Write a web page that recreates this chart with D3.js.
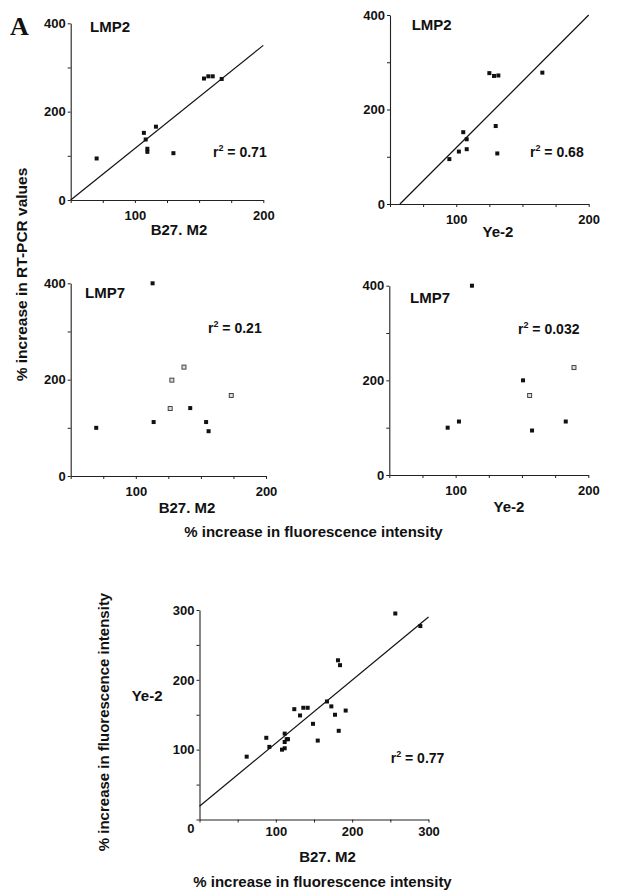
<!DOCTYPE html>
<html>
<head>
<meta charset="utf-8">
<script src="https://cdn.jsdelivr.net/npm/d3@7"></script>
<style>
  body { margin:0; background:#fff; }
  text { font-family:"Liberation Sans", Arial, sans-serif; font-weight:bold; fill:#111; }
</style>
</head>
<body>
<div class="canvas"></div>
<script>
// values, [x, y] pairs

// LMP2 vs B27.M2
const lmp2B27 = [[70.2,94],[107,152],[108.4,137],[109.7,116],[109.7,109],[116.4,166],
                 [130,106],[153.8,275],[157.2,280],[160.6,280],[167.6,274]];
const lmp2B27Fit = [[50,0],[200,350]];

// LMP2 vs Ye-2
const lmp2Ye2 = [[94.8,95],[102,111],[105.3,152],[107.9,137],[107.9,116],[125,277],
                 [128.5,271],[131.8,272],[129.8,165],[131,107],[165,278]];
const lmp2Ye2Fit = [[57.5,0],[200,400]];

// LMP7 vs B27.M2 (filled / open squares)
const lmp7B27Filled = [[69.6,100],[112.9,400],[113.7,112],[141.8,141],[154,112],[155.9,93]];
const lmp7B27Open = [[126.4,140],[127.7,199],[137,226],[173.3,167]];

// LMP7 vs Ye-2
const lmp7Ye2Filled = [[94,100],[102.5,113],[112.3,400],[150.8,200],[157.6,94],[183,113]];
const lmp7Ye2Open = [[155.8,168],[189.2,227]];

// Ye-2 vs B27.M2
const ye2B27 = [[61.8,90],[87.5,117],[91.5,104],[108.1,100],[111.6,102],[111.6,123],
                [111.6,111],[114.2,115],[115.9,115],[124.2,158],[131.7,149],[136,160],
                [141.7,160],[148.7,137],[154.9,113],[167,169],[172.7,162],[177.5,150],
                [181.4,228],[182.4,127],[184.1,221],[191.5,156],[256.5,295],[289.3,277]];
const ye2B27Fit = [[0,19],[300,290]];

// ticks
const rtTicksX = [50,75,100,125,150,175,200];
const rtTicksY = [0,100,200,300,400];
const rtLabelsX = [100,200];
const rtLabelsY = [0,200,400];
const flTicks = [0,50,100,150,200,250,300];
const flLabels = [100,200,300];

const r2Labels = ['0.71','0.68','0.21','0.032','0.77'];

const svg = d3.select('.canvas').append('svg')
  .attr('width', 618).attr('height', 895);

const drawPanel = (p) => {
  const x = d3.scaleLinear().domain(p.xDom).range(p.xR);
  const y = d3.scaleLinear().domain(p.yDom).range(p.yR);
  const g = svg.append('g');

  const xAxis = d3.axisBottom(x).tickValues(p.xTicks).tickSize(3).tickSizeOuter(0)
    .tickPadding(p.xPad).tickFormat(d => p.xLabels.includes(d) ? d : '');
  const yAxis = d3.axisLeft(y).tickValues(p.yTicks).tickSize(3).tickSizeOuter(0)
    .tickPadding(2).tickFormat(d => p.yLabels.includes(d) ? d : '');

  const xg = g.append('g').attr('transform', `translate(0,${p.yR[0]})`).call(xAxis);
  const yg = g.append('g').attr('transform', `translate(${p.xR[0]},0)`).call(yAxis);
  [xg, yg].forEach(a => {
    a.select('.domain').attr('stroke', '#222').attr('stroke-width', 1.1);
    a.selectAll('.tick line').attr('stroke', '#222');
    a.selectAll('text').style('font-size', '13px').style('font-family', '"Liberation Sans", Arial, sans-serif')
      .style('font-weight', 'bold').attr('fill', '#111');
  });
  if (p.zeroDown) yg.selectAll('.tick text').filter(d => d === 0).attr('dy', '1em');

  if (p.fit) {
    g.append('path').datum(p.fit)
      .attr('fill', 'none').attr('stroke', '#111').attr('stroke-width', 1.2)
      .attr('d', d3.line().x(d => x(d[0])).y(d => y(d[1])));
  }

  g.selectAll('rect.filled').data(p.filled).enter().append('rect')
    .attr('x', d => x(d[0]) - 2).attr('y', d => y(d[1]) - 2)
    .attr('width', 4).attr('height', 4).attr('fill', '#111');

  g.selectAll('rect.open').data(p.open || []).enter().append('rect')
    .attr('x', d => x(d[0]) - 2).attr('y', d => y(d[1]) - 2)
    .attr('width', 4).attr('height', 4).attr('fill', '#ddd')
    .attr('stroke', '#333').attr('stroke-width', 0.9);

  if (p.name) {
    g.append('text').attr('x', p.nameXY[0]).attr('y', p.nameXY[1])
      .style('font-size', '15px').attr('fill', p.nameColor || '#111').text(p.name);
  }

  const r2 = g.append('text').attr('x', p.r2XY[0]).attr('y', p.r2XY[1]).style('font-size', '14px');
  r2.append('tspan').text('r');
  r2.append('tspan').attr('dy', -6).style('font-size', '9px').text('2');
  r2.append('tspan').attr('dy', 6).text(' = ' + p.r2);

  g.append('text').attr('x', p.xlabXY[0]).attr('y', p.xlabXY[1])
    .attr('text-anchor', 'middle').style('font-size', '15px').text(p.xlab);
};

const rtPanel = {xDom:[50,200], yDom:[0,400], xTicks:rtTicksX, yTicks:rtTicksY,
                 xLabels:rtLabelsX, yLabels:rtLabelsY, xPad:8};

drawPanel({...rtPanel, xR:[70.7,263.3], yR:[200,23.3], filled:lmp2B27, fit:lmp2B27Fit,
  name:'LMP2', nameXY:[90,32], r2:r2Labels[0], r2XY:[213,157], xlab:'B27. M2', xlabXY:[179,235]});
drawPanel({...rtPanel, xR:[390,588.7], yR:[204,15], filled:lmp2Ye2, fit:lmp2Ye2Fit,
  name:'LMP2', nameXY:[411.7,30], r2:r2Labels[1], r2XY:[530,157], xlab:'Ye-2', xlabXY:[498,236.7]});
drawPanel({...rtPanel, xR:[70.7,266], yR:[476,283.3], filled:lmp7B27Filled, open:lmp7B27Open,
  name:'LMP7', nameColor:'#333', nameXY:[85,297.7], r2:r2Labels[2], r2XY:[208,333], xlab:'B27. M2', xlabXY:[187,512.7]});
drawPanel({...rtPanel, xR:[389.3,588.3], yR:[475,285.7], filled:lmp7Ye2Filled, open:lmp7Ye2Open,
  name:'LMP7', nameXY:[410,303.3], r2:r2Labels[3], r2XY:[518,334], xlab:'Ye-2', xlabXY:[509,511.7]});
drawPanel({xDom:[0,300], yDom:[0,300], xTicks:flTicks, yTicks:flTicks, xLabels:flLabels,
  yLabels:[0,100,200,300], xPad:4, zeroDown:true,
  xR:[199.5,428.5], yR:[819.5,610], filled:ye2B27, fit:ye2B27Fit,
  r2:r2Labels[4], r2XY:[390.7,763.3], xlab:'B27. M2', xlabXY:[327.5,862]});

// shared labels
svg.append('text').attr('x', 10).attr('y', 35)
  .style('font-family', '"Liberation Serif", "Times New Roman", serif').style('font-size', '26px').text('A');
svg.append('text').attr('transform', 'translate(27,274.5) rotate(-90)')
  .attr('text-anchor', 'middle').style('font-size', '15.5px').text('% increase in RT-PCR values');
svg.append('text').attr('x', 313.5).attr('y', 537)
  .attr('text-anchor', 'middle').style('font-size', '15px').text('% increase in fluorescence intensity');
svg.append('text').attr('transform', 'translate(109,722) rotate(-90)')
  .attr('text-anchor', 'middle').style('font-size', '15px').text('% increase in fluorescence intensity');
svg.append('text').attr('x', 131.7).attr('y', 700.7).style('font-size', '15px').text('Ye-2');
svg.append('text').attr('x', 322.5).attr('y', 887)
  .attr('text-anchor', 'middle').style('font-size', '15px').text('% increase in fluorescence intensity');
</script>
</body>
</html>
